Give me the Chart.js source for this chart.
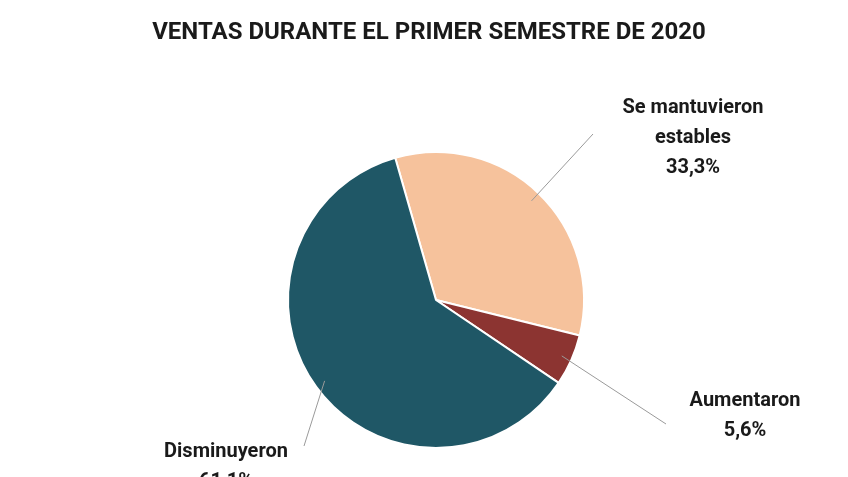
<!DOCTYPE html>
<html>
<head>
<meta charset="utf-8">
<script src="https://cdn.jsdelivr.net/npm/chart.js@4/dist/chart.umd.min.js"></script>
<style>
  html, body { margin: 0; padding: 0; background: #fff; }
  #wrap { width: 848px; height: 477px; }
</style>
</head>
<body>
<div id="wrap"><canvas id="c"></canvas></div>
<script>
// datos del gráfico
const categorias = ['Se mantuvieron estables', 'Aumentaron', 'Disminuyeron'];
const valores = [33.3, 5.6, 61.1];
const etiquetas = [['Se mantuvieron', 'estables', '33,3%'], ['Aumentaron', '5,6%'], ['Disminuyeron', '61,1%']];
const colores = ['#f6c29c', '#8c3431', '#1f5766'];

// líneas guía y textos alrededor del pastel
const guias = {
  id: 'guias',
  afterDraw(chart) {
    const ctx = chart.ctx;
    const meta = chart.getDatasetMeta(0);
    // dónde va cada etiqueta: [fin de línea x, y, texto x, texto y]
    const pos = [[593, 134, 693, 108], [666, 424, 745, 401], [304, 446, 226, 452]];
    ctx.save();
    ctx.fillStyle = '#1a1a1a';
    ctx.font = 'bold 24px Roboto';
    ctx.textAlign = 'center';
    ctx.textBaseline = 'middle';
    ctx.fillText('VENTAS DURANTE EL PRIMER SEMESTRE DE 2020', 429, 33);
    meta.data.forEach((arc, i) => {
      const mid = (arc.startAngle + arc.endAngle) / 2;
      const r = arc.outerRadius * 0.93;
      const x0 = arc.x + Math.cos(mid) * r;
      const y0 = arc.y + Math.sin(mid) * r;
      ctx.strokeStyle = '#9a9a9a';
      ctx.lineWidth = 1;
      ctx.beginPath();
      ctx.moveTo(x0, y0);
      ctx.lineTo(pos[i][0], pos[i][1]);
      ctx.stroke();
      ctx.font = 'bold 20px Roboto';
      ctx.fillStyle = '#1a1a1a';
      etiquetas[i].forEach((t, j) => ctx.fillText(t, pos[i][2], pos[i][3] + j * 30));
    });
    ctx.restore();
  }
};

new Chart(document.getElementById('c'), {
  type: 'pie',
  data: {
    labels: categorias,
    datasets: [{
      data: valores,
      backgroundColor: colores,
      borderColor: '#ffffff',
      borderWidth: 2
    }]
  },
  options: {
    responsive: true,
    maintainAspectRatio: false,
    animation: false,
    rotation: -16,
    layout: { padding: { left: 24, right: 0, top: 151, bottom: 28 } },
    plugins: { legend: { display: false }, tooltip: { enabled: false } }
  },
  plugins: [guias]
});
</script>
</body>
</html>
